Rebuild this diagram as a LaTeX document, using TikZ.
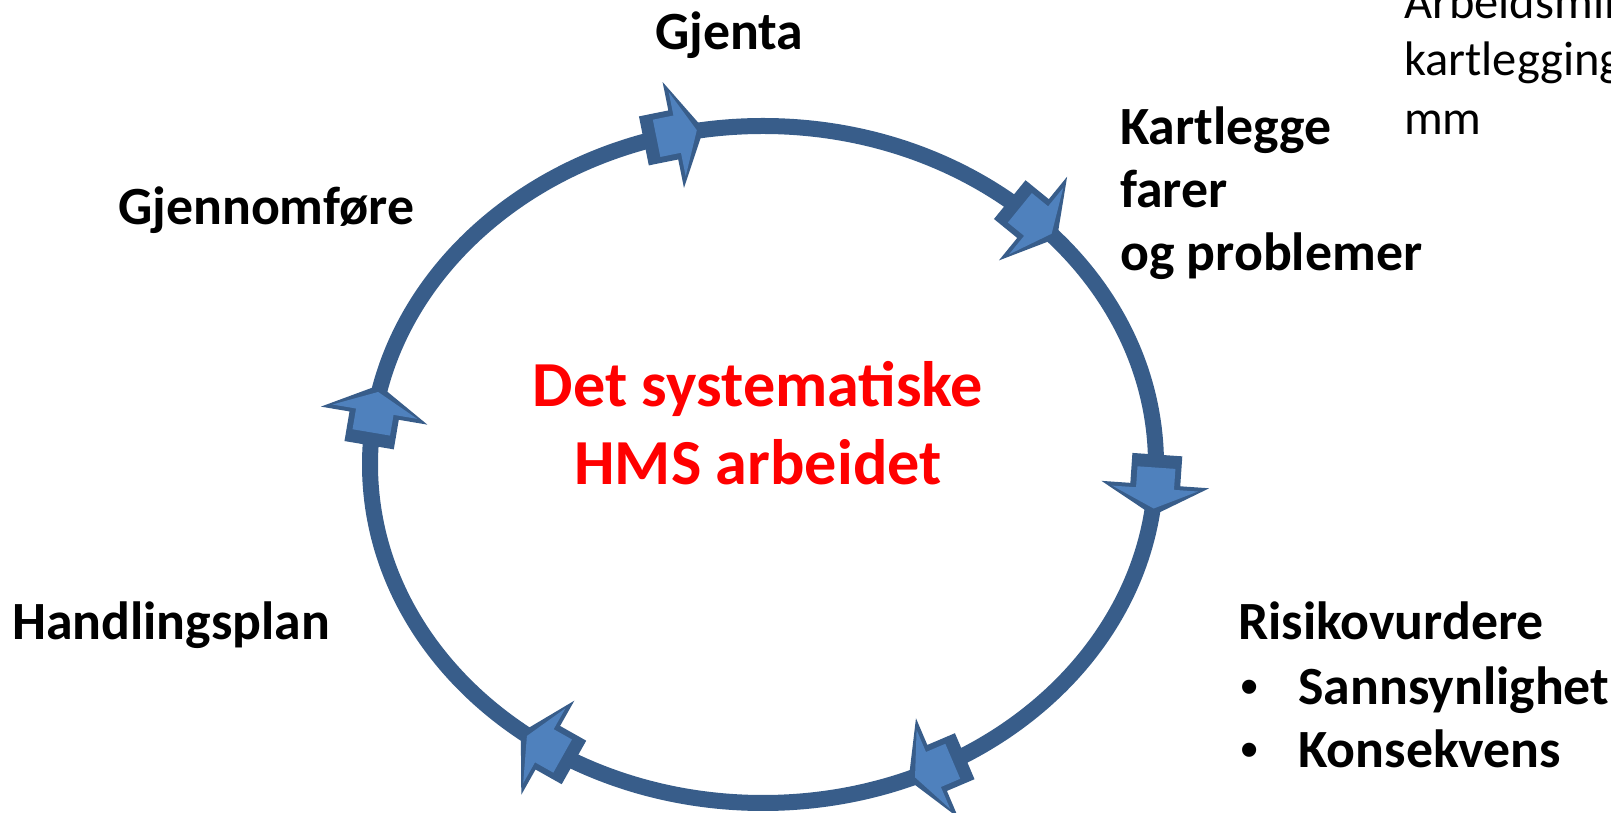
\documentclass[tikz,border=0pt]{standalone}
\usepackage{fontspec}
\setmainfont{Carlito}
\newfontfamily\bulletfont{Liberation Sans}
\usetikzlibrary{calc}
\definecolor{adark}{HTML}{385D8A}
\definecolor{alight}{HTML}{4F81BD}
\begin{document}
\begin{tikzpicture}[x=1pt,y=1pt,
  lab/.style={font=\fontsize{53.8}{65}\selectfont\bfseries, inner sep=0pt, anchor=base west},
  bul/.style={font=\fontsize{52}{63}\bulletfont\selectfont, inner sep=0pt, anchor=base west},
  note/.style={font=\fontsize{48.5}{58}\selectfont, inner sep=0pt, anchor=base west},
  title/.style={font=\fontsize{64.2}{78}\selectfont\bfseries, text=red, inner sep=0pt, anchor=base},
  ring/.style={draw=adark, line width=16pt},
  barrow/.pic={
    \fill[adark] (-30,-25) -- (0,-25) -- (0,-54) -- (31,0) -- (0,54) -- (0,25) -- (-30,25) -- cycle;
    \fill[alight] (-17,-19) -- (4,-19) -- (4,-43) -- (24,0) -- (4,43) -- (4,19) -- (-17,19) -- cycle;
  }]
\clip (0,0) rectangle (1611,813);
\coordinate (c) at (763,348.5);
\draw[ring] (c) ellipse [x radius=393, y radius=338.5];
\foreach \t in {103.2,46.6,-3.4,-63.7,-123.2,171.7}{
  \pgfmathsetmacro\ang{atan2(-338.5*cos(\t),393*sin(\t))}
  \pic[rotate=\ang] at ($(c)+(\t:393 and 338.5)$) {barrow};
}
% labels
\node[lab] (gjenta) at (655,763) {Gjenta};
\node[lab] (gjennom) at (118,588) {Gjennomføre};
\node[lab] (kart1) at (1120,668) {Kartlegge};
\node[lab] (kart2) at (1120,605) {farer};
\node[lab] (kart3) at (1120,542) {og problemer};
\node[lab] (handling) at (12,173) {Handlingsplan};
\node[lab] (risiko) at (1238,173) {Risikovurdere};
\node[bul] (b1) at (1240,108) {•};
\node[lab] (sann) at (1298,108) {Sannsynlighet};
\node[bul] (b2) at (1240,45) {•};
\node[lab] (kons) at (1298,45) {Konsekvens};
\node[note] (n1) at (1404,794) {Arbeidsmiljø};
\node[note] (n2) at (1404,737) {kartlegging};
\node[note] (n3) at (1404,678) {mm};
\node[title] (t1) at (758,406) {Det systematiske};
\node[title] (t2) at (758,328) {HMS arbeidet};
\end{tikzpicture}
\end{document}
